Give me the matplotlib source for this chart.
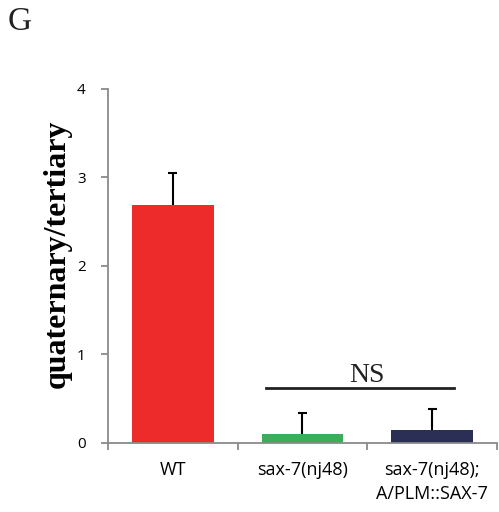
import matplotlib
matplotlib.use("Agg")
import matplotlib.pyplot as plt

categories = ["WT", "sax-7(nj48)", "sax-7(nj48);\nA/PLM::SAX-7"]
values = [2.69, 0.10, 0.15]
errors = [0.36, 0.24, 0.23]
colors = ["#EE2B2B", "#3BAE5B", "#2C2F55"]
yticks = [0, 1, 2, 3, 4]

fig = plt.figure(figsize=(4.99, 5.12), dpi=100)
ax = fig.add_axes([0.2164, 0.1348, 0.7796, 0.6914])

x = list(range(len(categories)))
ax.bar(x, values, width=0.63, color=colors, zorder=2)
tops = [v + e for v, e in zip(values, errors)]
ax.vlines(x, values, tops, color="black", lw=1.5, zorder=3)
ax.hlines(tops, [xi - 0.035 for xi in x], [xi + 0.035 for xi in x],
          color="black", lw=1.5, zorder=3)

ax.set_xlim(-0.5, 2.5)
ax.set_ylim(0, 4)
ax.set_yticks(yticks)
ax.set_yticklabels([str(t) for t in yticks], fontsize=11, family="Open Sans")
ax.set_xticks([-0.5, 0.5, 1.5, 2.5])
ax.set_xticklabels([])
ax.set_xticks(x, minor=True)
ax.set_xticklabels(categories, minor=True, fontsize=13, family="Open Sans",
                   linespacing=1.45)
ax.tick_params(axis="x", which="minor", length=0, pad=13)
ax.tick_params(axis="x", which="major", length=5, width=1.3, color="#8a8a8a")
ax.tick_params(axis="y", length=5, width=1.3, color="#8a8a8a", pad=11)

for s in ["top", "right"]:
    ax.spines[s].set_visible(False)
for s in ["left", "bottom"]:
    ax.spines[s].set_color("#8a8a8a")
    ax.spines[s].set_linewidth(1.3)

ax.set_ylabel("quaternary/tertiary", fontsize=23, fontweight="bold",
              family="Liberation Serif")
ax.yaxis.set_label_coords(-0.093, 0.534)

# NS bracket
ax.plot([0.72, 2.17], [0.62, 0.62], color="#222222", lw=2, zorder=4)
ax.text(1.5, 0.69, "NS", ha="center", va="baseline", fontsize=20,
        family="Liberation Serif", color="#222222")

fig.text(0.016, 0.958, "G", fontsize=24, family="Liberation Serif",
         va="center", ha="left", color="#222222")

fig.savefig("out.png", dpi=100)
